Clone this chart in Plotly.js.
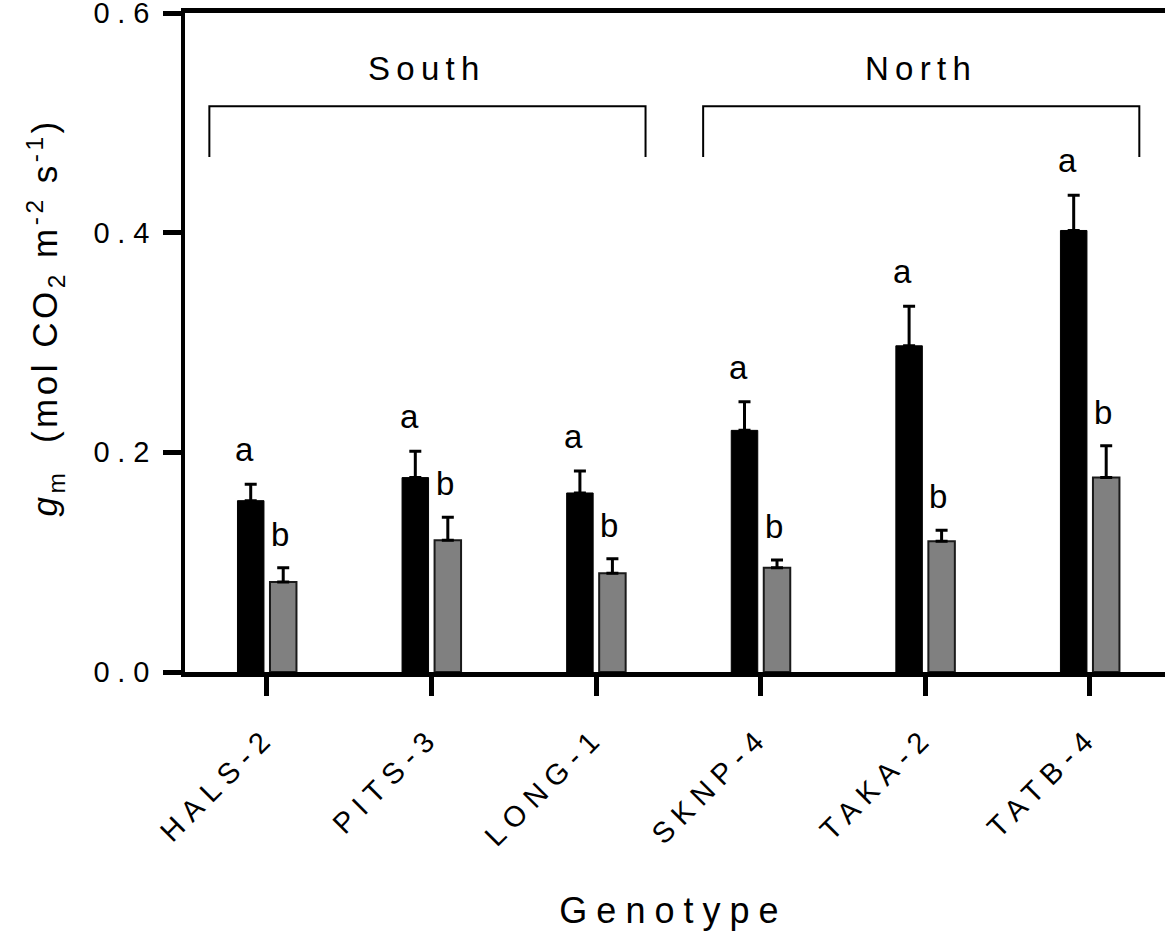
<!DOCTYPE html>
<html>
<head>
<meta charset="utf-8">
<script src="https://cdn.plot.ly/plotly-3.0.1.min.js"></script>
<style>
  html, body { margin: 0; padding: 0; background: #fff; }
  #chart { width: 1165px; height: 938px; }
  /* wide tracking used throughout the figure's lettering */
  svg text { letter-spacing: 0.19em; }
  .xtick text, .ytick text { letter-spacing: 0.27em; }
  .ytitle-note text { letter-spacing: 0.1em; }
  .xtitle-note text { letter-spacing: 0.25em; }
</style>
</head>
<body>
<div id="chart"></div>
<script>
// Mesophyll conductance per genotype, two treatments (black / grey bars)
const genotypes = ['HALS-2', 'PITS-3', 'LONG-1', 'SKNP-4', 'TAKA-2', 'TATB-4'];

const gmBlack = [0.156, 0.177, 0.163, 0.220, 0.297, 0.402];
const seBlack = [0.015, 0.024, 0.020, 0.026, 0.036, 0.032];

const gmGrey = [0.082, 0.120, 0.090, 0.095, 0.119, 0.177];
const seGrey = [0.013, 0.021, 0.013, 0.007, 0.010, 0.029];

const lettersBlack = ['a', 'a', 'a', 'a', 'a', 'a'];
const lettersGrey = ['b', 'b', 'b', 'b', 'b', 'b'];

// origin groups: index of first and last genotype in each
const regionNames = ['South', 'North'];
const regionFirst = [0, 3];
const regionLast = [2, 5];

const yTicks = [0, 0.2, 0.4, 0.6];

const FONT = 'Liberation Sans, Arial, sans-serif';
const zeros = genotypes.map(() => 0);

const traces = [
  {
    type: 'bar', x: genotypes, y: gmBlack,
    marker: { color: '#000000', line: { color: '#000000', width: 1 } },
    error_y: { type: 'data', symmetric: false, array: seBlack, arrayminus: zeros,
               color: '#000000', thickness: 3, width: 6 },
    hoverinfo: 'skip'
  },
  {
    type: 'bar', x: genotypes, y: gmGrey,
    marker: { color: '#808080', line: { color: '#1a1a1a', width: 2 } },
    error_y: { type: 'data', symmetric: false, array: seGrey, arrayminus: zeros,
               color: '#000000', thickness: 3, width: 6 },
    hoverinfo: 'skip'
  }
];

const annotations = [];
genotypes.forEach((g, i) => {
  annotations.push({
    x: g, y: gmBlack[i] + seBlack[i], xref: 'x', yref: 'y',
    text: lettersBlack[i], showarrow: false,
    xanchor: 'left', yanchor: 'bottom', xshift: -34, yshift: 14,
    font: { family: FONT, size: 33, color: '#000' }
  });
  annotations.push({
    x: g, y: gmGrey[i] + seGrey[i], xref: 'x', yref: 'y',
    text: lettersGrey[i], showarrow: false,
    xanchor: 'left', yanchor: 'bottom', xshift: 2, yshift: 13,
    font: { family: FONT, size: 33, color: '#000' }
  });
});

// bracket geometry around each region group
const armLeft = 0.35, armRight = 0.30;
const bracketTop = 0.515, bracketFoot = 0.469;
const shapes = [];
regionNames.forEach((name, k) => {
  const x0 = regionFirst[k] - armLeft;
  const x1 = regionLast[k] + armRight;
  shapes.push({
    type: 'path', xref: 'x', yref: 'y',
    path: `M ${x0} ${bracketFoot} L ${x0} ${bracketTop} L ${x1} ${bracketTop} L ${x1} ${bracketFoot}`,
    line: { color: '#000', width: 2 }
  });
  annotations.push({
    x: (x0 + x1) / 2, y: bracketTop, xref: 'x', yref: 'y',
    text: name, showarrow: false, xanchor: 'center', yanchor: 'bottom', yshift: 17,
    font: { family: FONT, size: 33, color: '#000' }
  });
});

// axis titles
annotations.push({
  xref: 'paper', yref: 'paper', x: 0, y: 0.538, xshift: -140,
  xanchor: 'center', yanchor: 'middle', textangle: -90, showarrow: false,
  text: '<i>g</i><sub>m</sub>\u00a0 (mol CO<sub>2</sub> m<sup>-2</sup> s<sup>-1</sup>)',
  font: { family: FONT, size: 35, color: '#000' }
});
annotations.push({
  xref: 'paper', yref: 'paper', x: 0.498, y: -0.362,
  xanchor: 'center', yanchor: 'middle', showarrow: false,
  text: 'Genotype',
  font: { family: FONT, size: 36, color: '#000' }
});

const layout = {
  width: 1165, height: 938,
  margin: { l: 185, r: 0, t: 13, b: 266 },
  paper_bgcolor: '#fff', plot_bgcolor: '#fff',
  showlegend: false,
  barmode: 'group', bargap: 0.605, bargroupgap: 0.185,
  font: { family: FONT, color: '#000' },
  xaxis: {
    type: 'category', range: [-0.498, 5.456],
    showline: true, linewidth: 5, linecolor: '#000', mirror: true,
    ticks: 'outside', ticklen: 19, tickwidth: 5, tickcolor: '#000',
    tickangle: -45, ticklabelstandoff: 12,
    tickfont: { family: FONT, size: 29, color: '#000' },
    showgrid: false, zeroline: false, fixedrange: true
  },
  yaxis: {
    range: [0, 0.6], tickvals: yTicks, tickformat: '.1f',
    showline: true, linewidth: 4, linecolor: '#000',
    ticks: 'outside', ticklen: 18, tickwidth: 5, tickcolor: '#000',
    ticklabeloverflow: 'allow',
    tickfont: { family: FONT, size: 29, color: '#000' },
    showgrid: false, zeroline: false, fixedrange: true
  },
  shapes: shapes,
  annotations: annotations
};

Plotly.newPlot('chart', traces, layout, { staticPlot: true, displayModeBar: false }).then(gd => {
  // own tracking for the two axis titles
  const notes = gd.querySelectorAll('.annotation');
  notes[notes.length - 2].classList.add('ytitle-note');
  notes[notes.length - 1].classList.add('xtitle-note');
});
</script>
</body>
</html>
